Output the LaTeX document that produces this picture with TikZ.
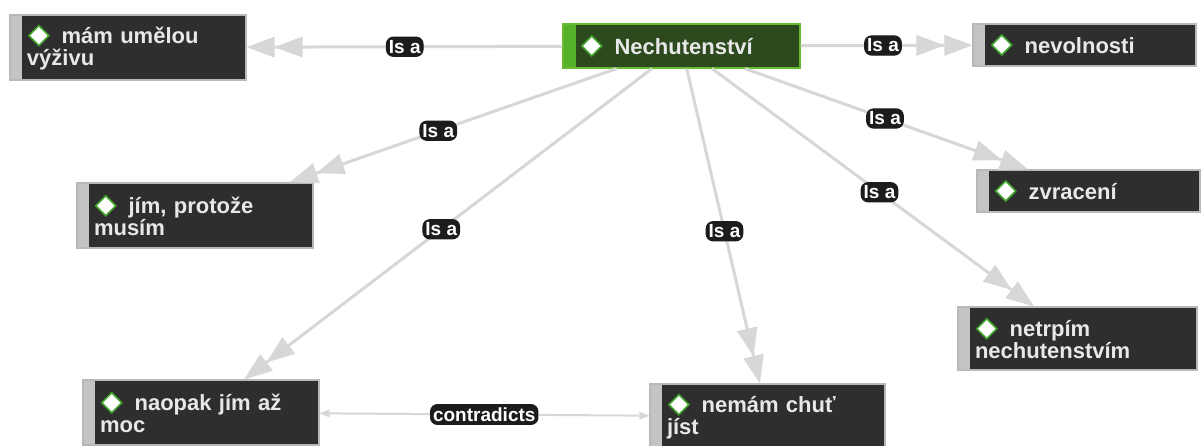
\documentclass[tikz,border=0pt]{standalone}
\usepackage{fontspec}
\setmainfont{Liberation Sans}
\usetikzlibrary{arrows.meta}
\definecolor{boxfill}{HTML}{2E2E2E}
\definecolor{boxborder}{HTML}{B8B8B8}
\definecolor{stripc}{HTML}{C4C4C4}
\definecolor{boxtext}{HTML}{E8E8E8}
\definecolor{gfill}{HTML}{2C4A1E}
\definecolor{gstrip}{HTML}{55B02A}
\definecolor{gborder}{HTML}{66BB33}
\definecolor{diagreen}{HTML}{3FA52A}
\definecolor{edgec}{HTML}{D7D7D7}
\definecolor{haloc}{HTML}{1C1C1C}
\newcommand\nodefont{\fontsize{22}{22}\selectfont\bfseries}
\newcommand\lblfont{\fontsize{19}{20}\selectfont\bfseries}
\newcommand\dia{\hspace*{1pt}\tikz[baseline={(0pt,-8pt)}]{\path[fill=white,draw=diagreen,line width=1.6pt] (0pt,10pt) -- (10pt,0pt) -- (0pt,-10pt) -- (-10pt,0pt) -- cycle;}\hspace{12pt}}
\tikzset{
  box/.style={rectangle, draw=boxborder, line width=1.2pt, fill=boxfill,
    inner xsep=17pt, inner ysep=0pt, align=left, text=boxtext, font=\nodefont,
    path picture={\fill[stripc] (path picture bounding box.south west) rectangle ([xshift=12pt]path picture bounding box.north west);}},
  gbox/.style={rectangle, draw=gborder, line width=1.2pt, fill=gfill,
    inner xsep=17pt, inner ysep=0pt, align=left, text=boxtext, font=\nodefont,
    path picture={\fill[gstrip] (path picture bounding box.south west) rectangle ([xshift=13pt]path picture bounding box.north west);}},
  sz/.style n args={2}{minimum width=#1pt, minimum height=#2pt, text width=#1pt-34pt},
  isa/.style={draw=edgec, line width=3pt,
    -{Triangle[length=28pt,width=21pt,line width=0pt]Triangle[length=28pt,width=21pt,line width=0pt]}},
  contra/.style={draw=edgec, line width=2pt,
    {Triangle[length=10pt,width=8pt,line width=0pt]}-{Triangle[length=10pt,width=8pt,line width=0pt]}},
  lbl/.style={font=\lblfont, text=white, fill=haloc, draw=haloc, line width=1pt,
    rounded corners=7pt, inner xsep=2.5pt, inner ysep=3pt}
}
\begin{document}
\begin{tikzpicture}[x=1pt,y=-1pt]
\clip (0,0) rectangle (1203,445);
\fill[white] (0,0) rectangle (1203,445);
% nodes
\node[box, sz={236}{65}] (um) at (128,47.5) {\dia mám umělou\\výživu};
\node[gbox, sz={237}{44}] (nech) at (681.5,46) {\dia Nechutenství};
\node[box, sz={223}{42}] (nev) at (1084.5,45) {\dia nevolnosti};
\node[box, sz={236}{65}] (jim) at (195,215.5) {\dia jím, protože\\musím};
\node[box, sz={223}{42}] (zvr) at (1088.5,191) {\dia zvracení};
\node[box, sz={239}{63}] (netr) at (1077.5,338.5) {\dia netrpím\\nechutenstvím};
\node[box, sz={236}{65}] (naop) at (201,412.5) {\dia naopak jím až\\moc};
\node[box, sz={235}{65}] (nem) at (767.5,416.5) {\dia nemám chuť\\jíst};
% connectors
\draw[isa] (nech) -- (um);
\draw[isa] (nech) -- (nev);
\draw[isa] (nech) -- (jim);
\draw[isa] (nech) -- (naop);
\draw[isa] (nech) -- (nem);
\draw[isa] (nech) -- (zvr);
\draw[isa] (nech) -- (netr);
\draw[contra] (naop) -- (nem);
% labels
\path (nech.center) -- node[lbl] (l1) {Is a} (um.center);
\path (nech.center) -- node[lbl] (l2) {Is a} (nev.center);
\path (nech.center) -- node[lbl] (l3) {Is a} (jim.center);
\path (nech.center) -- node[lbl] (l4) {Is a} (naop.center);
\path (nech.center) -- node[lbl] (l5) {Is a} (nem.center);
\path (nech.center) -- node[lbl] (l6) {Is a} (zvr.center);
\path (nech.center) -- node[lbl] (l7) {Is a} (netr.center);
\path (naop.center) -- node[lbl] (l8) {contradicts} (nem.center);
\end{tikzpicture}
\end{document}
